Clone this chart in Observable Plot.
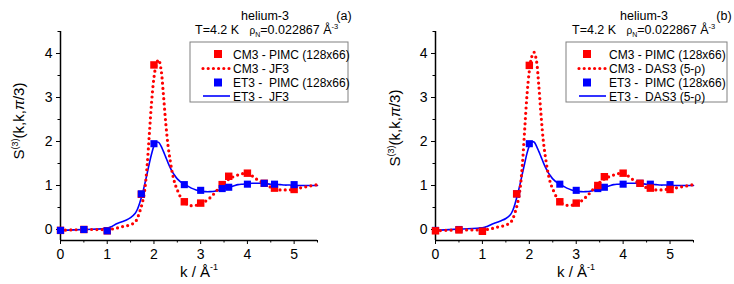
<!DOCTYPE html>
<html>
<head>
<meta charset="utf-8">
<script src="https://cdn.jsdelivr.net/npm/d3@7"></script>
<script src="https://cdn.jsdelivr.net/npm/@observablehq/plot@0.6"></script>
<style>
  html, body { margin: 0; padding: 0; background: white; }
  #wrap { position: relative; width: 734px; height: 284px; overflow: hidden; }
  #pa, #pb { position: absolute; top: 0; }
  #pa { left: 0; }
  #pb { left: 367px; }
</style>
</head>
<body>
<div id="wrap"><div id="pa"></div><div id="pb"></div></div>
<script>
// ---------- data ----------
const kPimc = [0, 0.5, 1.0, 1.73, 2.0, 2.65, 3.0, 3.46, 3.6, 4.0, 4.36, 4.58, 5.0];
const cm3PimcA = [-0.02, 0.0, -0.03, 0.80, 3.74, 0.63, 0.60, 1.02, 1.21, 1.28, 1.05, 0.94, 0.91];
const et3PimcA = [-0.02, 0.0, -0.03, 0.81, 1.95, 1.02, 0.89, 0.93, 0.96, 1.03, 1.05, 1.03, 1.02];
const cm3PimcB = [-0.03, -0.01, -0.04, 0.81, 3.73, 0.63, 0.60, 1.00, 1.20, 1.28, 1.05, 0.94, 0.91];
const et3PimcB = [-0.02, 0.0, -0.03, 0.81, 1.95, 1.03, 0.89, 0.93, 0.96, 1.03, 1.05, 1.03, 1.02];

const kCurve = [0, 0.5, 1.0, 1.1, 1.2, 1.3, 1.4, 1.5, 1.6,
  1.65, 1.7, 1.75, 1.8, 1.85, 1.9, 1.95, 2.0, 2.05, 2.1, 2.15, 2.2, 2.25, 2.3, 2.35, 2.4, 2.45, 2.5,
  2.6, 2.7, 2.8, 2.9, 3.0, 3.1, 3.2, 3.3, 3.4, 3.5, 3.6, 3.7, 3.8, 3.9, 4.0,
  4.1, 4.2, 4.3, 4.4, 4.5, 4.6, 4.7, 4.8, 4.9, 5.0, 5.1, 5.2, 5.3, 5.4, 5.5];

const cm3JF3 = [-0.02, 0.0, 0.0, 0.01, 0.03, 0.06, 0.08, 0.11, 0.17,
  0.27, 0.42, 0.60, 0.88, 1.40, 2.15, 2.90, 3.45, 3.75, 3.86, 3.65, 3.10, 2.45, 1.92, 1.55, 1.25, 1.04, 0.90,
  0.68, 0.58, 0.54, 0.55, 0.58, 0.64, 0.72, 0.83, 0.95, 1.06, 1.14, 1.20, 1.24, 1.27, 1.27,
  1.22, 1.14, 1.08, 1.01, 0.96, 0.92, 0.90, 0.90, 0.90, 0.92, 0.94, 0.96, 0.98, 1.00, 1.02];
const et3JF3 = [-0.02, 0.0, 0.03, 0.07, 0.13, 0.17, 0.21, 0.27, 0.37,
  0.47, 0.62, 0.80, 1.02, 1.25, 1.50, 1.72, 1.90, 1.98, 1.98, 1.90, 1.78, 1.65, 1.52, 1.40, 1.30, 1.22, 1.15,
  1.06, 1.00, 0.94, 0.90, 0.87, 0.86, 0.86, 0.87, 0.90, 0.93, 0.96, 0.99, 1.02, 1.03, 1.04,
  1.05, 1.05, 1.05, 1.04, 1.03, 1.03, 1.02, 1.01, 1.01, 1.00, 1.00, 1.00, 1.00, 1.00, 1.00];
const cm3DAS3 = [-0.03, -0.01, -0.01, 0.0, 0.02, 0.05, 0.07, 0.10, 0.16,
  0.25, 0.40, 0.60, 0.90, 1.45, 2.25, 3.05, 3.60, 3.92, 4.03, 3.85, 3.30, 2.60, 2.00, 1.60, 1.28, 1.06, 0.92,
  0.70, 0.59, 0.55, 0.55, 0.58, 0.64, 0.73, 0.84, 0.96, 1.07, 1.15, 1.20, 1.24, 1.27, 1.27,
  1.22, 1.14, 1.07, 1.00, 0.95, 0.92, 0.90, 0.90, 0.91, 0.92, 0.94, 0.96, 0.98, 1.00, 1.02];
const et3DAS3 = [-0.02, 0.01, 0.04, 0.07, 0.12, 0.16, 0.20, 0.25, 0.34,
  0.44, 0.60, 0.80, 1.02, 1.26, 1.50, 1.73, 1.90, 1.99, 1.99, 1.90, 1.78, 1.65, 1.52, 1.40, 1.30, 1.22, 1.15,
  1.06, 1.00, 0.94, 0.90, 0.87, 0.86, 0.86, 0.87, 0.90, 0.93, 0.96, 0.99, 1.02, 1.03, 1.04,
  1.05, 1.05, 1.05, 1.04, 1.03, 1.03, 1.02, 1.01, 1.01, 1.00, 1.00, 1.00, 1.00, 1.00, 1.00];

const xMajor = [0, 1, 2, 3, 4, 5];
const xMinor = [0.5, 1.5, 2.5, 3.5, 4.5, 5.5];
const yMajor = [0, 1, 2, 3, 4];
const yMinor = [0.5, 1.5, 2.5, 3.5, 4.5];

const legendA = ["CM3 - PIMC (128x66)", "CM3 - JF3", "ET3 -  PIMC (128x66)", "ET3 -  JF3"];
const legendB = ["CM3 - PIMC (128x66)", "CM3 - DAS3 (5-\u03c1)", "ET3 -  PIMC (128x66)", "ET3 -  DAS3 (5-\u03c1)"];

// ---------- style ----------
const RED = "#ff0000";
const BLUE = "#0000ff";
const FONT = "'Liberation Sans', Arial, sans-serif";

function makePanel(cfg) {
  const curveRows = kCurve.map((k, i) => ({k, red: cfg.redCurve[i], blue: cfg.blueCurve[i]}));
  const pimcRows = kPimc.map((k, i) => ({k, red: cfg.redPimc[i], blue: cfg.bluePimc[i]}));
  const redSq = Plot.dot(pimcRows, {x: "k", y: "red", symbol: "square", r: 4.2, fill: RED, stroke: "none"});
  const blueSq = Plot.dot(pimcRows, {x: "k", y: "blue", symbol: "square", r: 4.0, fill: BLUE, stroke: "none"});
  const svg = Plot.plot({
    width: 367, height: 284,
    marginLeft: cfg.ml, marginRight: cfg.mr, marginTop: 31, marginBottom: 44,
    x: {domain: [0, 5.5]},
    y: {domain: [-0.25, 4.5]},
    style: {fontFamily: FONT, fontSize: "14px", color: "black", background: "white", overflow: "visible"},
    marks: [
      Plot.axisX({ticks: xMajor, tickSize: 4, tickPadding: 5, tickFormat: d => String(d), label: null}),
      Plot.axisX({ticks: xMinor, tickSize: 2.5, tickFormat: () => "", label: null}),
      Plot.axisY({ticks: yMajor, tickSize: 4, tickPadding: 4, tickFormat: d => String(d), label: null}),
      Plot.axisY({ticks: yMinor, tickSize: 2.5, tickFormat: () => "", label: null}),
      Plot.ruleX([0], {stroke: "black", strokeWidth: 1.5}),
      Plot.ruleY([-0.25], {stroke: "black", strokeWidth: 1.5}),
      Plot.line(curveRows, {x: "k", y: "blue", stroke: BLUE, strokeWidth: 1.6, curve: "catmull-rom"}),
      Plot.line(curveRows, {x: "k", y: "red", stroke: RED, strokeWidth: 3.2, strokeDasharray: "0 5.2", strokeLinecap: "round", curve: "catmull-rom"}),
      ...(cfg.redOnTop ? [blueSq, redSq] : [redSq, blueSq])
    ]
  });

  const g = d3.select(svg).append("g").attr("font-family", FONT).attr("fill", "black")
    .attr("text-anchor", "start");

  // header texts
  g.append("text").attr("x", cfg.heX).attr("y", 20).attr("text-anchor", "middle")
    .attr("font-size", 12.5).text("helium-3");
  g.append("text").attr("x", cfg.tagX).attr("y", 20).attr("text-anchor", "middle")
    .attr("font-size", 12.5).text(cfg.tag);
  const t = g.append("text").attr("x", cfg.tX).attr("y", 34).attr("font-size", 12.5)
    .attr("text-anchor", "start").attr("style", "white-space:pre");
  t.append("tspan").text("T=4.2 K   ");
  t.append("tspan").attr("font-size", 10).text("\u03c1");
  t.append("tspan").attr("font-size", 7).attr("dy", 3).text("N");
  t.append("tspan").attr("dy", -3).text("=0.022867 \u00c5");
  t.append("tspan").attr("font-size", 7.5).attr("dy", -5).text("-3");

  // y label
  const yl = g.append("text").attr("transform", `translate(${cfg.ylX},${cfg.ylY}) rotate(-90)`)
    .attr("text-anchor", "middle").attr("font-size", 15);
  yl.append("tspan").text("S");
  yl.append("tspan").attr("font-size", 9).attr("dy", -6).text("(3)");
  yl.append("tspan").attr("dy", 6).text("(k,k,");
  yl.append("tspan").attr("font-style", "italic").text("\u03c0");
  yl.append("tspan").text("/3)");

  // x label
  const xl = g.append("text").attr("x", cfg.xlX).attr("y", 277).attr("text-anchor", "middle")
    .attr("font-size", 15);
  xl.append("tspan").text("k / \u00c5");
  xl.append("tspan").attr("font-size", 9).attr("dy", -7).text("-1");

  // legend
  const L = cfg.leg;
  g.append("rect").attr("x", L.x).attr("y", 42).attr("width", L.w).attr("height", 60)
    .attr("fill", "white").attr("stroke", "#808080").attr("stroke-width", 1);
  const rows = [54, 68.5, 82.5, 96];
  const lg = g.append("g").attr("font-size", 12).attr("text-anchor", "start");
  // symbols
  lg.append("rect").attr("x", L.sq - 4).attr("y", rows[0] - 4).attr("width", 8).attr("height", 8).attr("fill", RED);
  lg.append("line").attr("x1", L.l1).attr("x2", L.l2).attr("y1", rows[1]).attr("y2", rows[1])
    .attr("stroke", RED).attr("stroke-width", 3.2).attr("stroke-dasharray", "0 5.2").attr("stroke-linecap", "round");
  lg.append("rect").attr("x", L.sq - 4).attr("y", rows[2] - 4).attr("width", 8).attr("height", 8).attr("fill", BLUE);
  lg.append("line").attr("x1", L.l1).attr("x2", L.l2).attr("y1", rows[3]).attr("y2", rows[3])
    .attr("stroke", BLUE).attr("stroke-width", 1.6);
  cfg.legend.forEach((s, i) => {
    lg.append("text").attr("x", L.tx).attr("y", rows[i] + 4.5).attr("text-anchor", "start")
      .attr("style", "white-space:pre").text(s);
  });
  return svg;
}

document.getElementById("pa").append(makePanel({
  ml: 60, mr: 50, redCurve: cm3JF3, blueCurve: et3JF3, redPimc: cm3PimcA, bluePimc: et3PimcA,
  redOnTop: false, heX: 265, tagX: 344, tag: "(a)", tX: 195, ylX: 24, ylY: 121, xlX: 199,
  leg: {x: 190, w: 158, sq: 218, l1: 203, l2: 230, tx: 233}, legend: legendA
}));
document.getElementById("pb").append(makePanel({
  ml: 68, mr: 41, redCurve: cm3DAS3, blueCurve: et3DAS3, redPimc: cm3PimcB, bluePimc: et3PimcB,
  redOnTop: true, heX: 277, tagX: 357, tag: "(b)", tX: 205, ylX: 33, ylY: 128, xlX: 209,
  leg: {x: 199, w: 161, sq: 220, l1: 212, l2: 239, tx: 242}, legend: legendB
}));
</script>
</body>
</html>
